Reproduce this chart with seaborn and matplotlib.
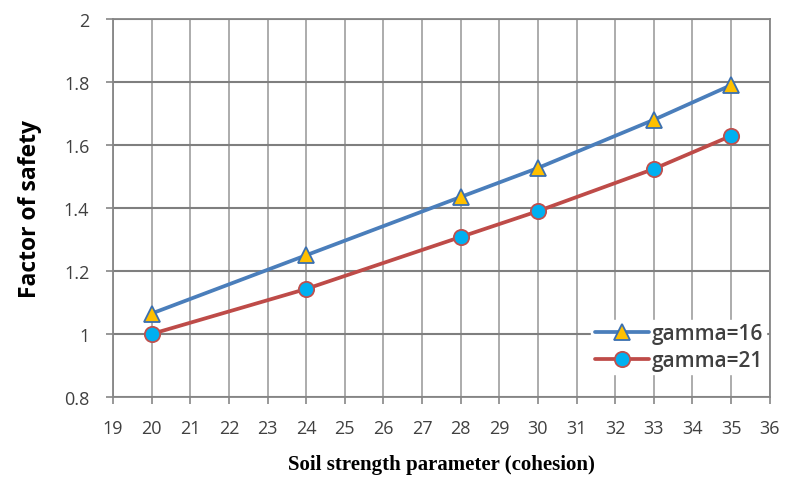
import matplotlib
matplotlib.use("Agg")
import matplotlib.pyplot as plt
import seaborn as sns
import pandas as pd

cohesion = [20, 24, 28, 30, 33, 35]
fos_gamma16 = [1.065, 1.25, 1.435, 1.527, 1.68, 1.79]
fos_gamma21 = [1.0, 1.143, 1.308, 1.39, 1.524, 1.629]
series_names = ["gamma=16", "gamma=21"]
x_ticks = list(range(19, 37))
y_ticks = [0.8, 1.0, 1.2, 1.4, 1.6, 1.8, 2.0]
y_tick_labels = ["0.8", "1", "1.2", "1.4", "1.6", "1.8", "2"]

sns.set_style("white")
plt.rcParams["font.family"] = ["Open Sans", "DejaVu Sans"]

df = pd.DataFrame({
    "cohesion": cohesion * 2,
    "fos": fos_gamma16 + fos_gamma21,
    "series": [series_names[0]] * len(cohesion) + [series_names[1]] * len(cohesion),
})

fig = plt.figure(figsize=(7.87, 4.81), dpi=100)
ax = fig.add_axes([0.1436, 0.1726, 0.8344, 0.7858])

styles = {
    series_names[0]: dict(color="#4A7EBB", marker="^", mfc="#FFC000", mec="#3A6FB0", ms=12),
    series_names[1]: dict(color="#BE4B48", marker="o", mfc="#00B0F0", mec="#C0504D", ms=11),
}
for name in series_names:
    s = styles[name]
    sub = df[df["series"] == name]
    sns.lineplot(data=sub, x="cohesion", y="fos", ax=ax, color=s["color"], lw=2.7,
                 marker=s["marker"], markerfacecolor=s["mfc"], markeredgecolor=s["mec"],
                 markeredgewidth=1.3, markersize=s["ms"], label=name, zorder=3)

ax.set_xlim(19, 36)
ax.set_ylim(0.8, 2.0)
ax.set_xticks(x_ticks)
ax.set_xticklabels([str(t) for t in x_ticks])
ax.set_yticks(y_ticks)
ax.set_yticklabels(y_tick_labels)
ax.tick_params(axis="both", labelsize=13, colors="#404040", length=5, direction="out",
               width=1.2, color="#868686", bottom=True, left=True)
ax.tick_params(axis="x", pad=11)
ax.tick_params(axis="y", pad=12)
ax.grid(axis="x", color="#A6A6A6", lw=1.3)
ax.grid(axis="y", color="#7F7F7F", lw=1.5)
ax.set_axisbelow(True)
for side in ["left", "bottom", "right", "top"]:
    ax.spines[side].set_color("#868686")
    ax.spines[side].set_linewidth(1.3)

ax.set_ylabel("Factor of safety", fontsize=16.5, fontweight="bold", color="black", labelpad=16)
ax.set_xlabel("Soil strength parameter (cohesion)", fontsize=15, fontweight="bold",
              family=["Liberation Serif"], color="black", labelpad=12)

leg = ax.legend(loc="lower right", bbox_to_anchor=(0.995, 0.06), frameon=True, fontsize=15,
                handlelength=2.6, borderpad=0.15, labelspacing=0.3, handletextpad=0.15,
                borderaxespad=0.0, prop={"size": 15, "weight": "semibold"})
leg.get_frame().set_facecolor("white")
leg.get_frame().set_edgecolor("white")
leg.get_frame().set_alpha(1)
leg.get_frame().set_boxstyle("square", pad=0)
for t in leg.get_texts():
    t.set_color("#404040")

fig.savefig("out.png", dpi=100)
